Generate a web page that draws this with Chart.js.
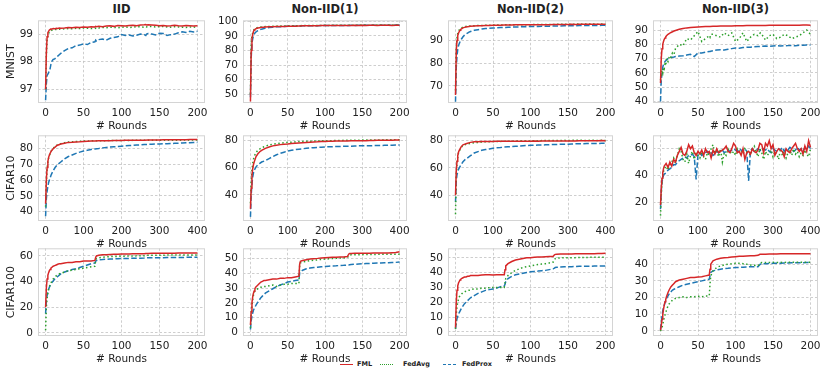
<!DOCTYPE html>
<html>
<head>
<meta charset="utf-8">
<script src="https://cdn.jsdelivr.net/npm/chart.js@4.4.0/dist/chart.umd.min.js"></script>
<style>
  body { margin: 0; background: #fff; }
  #fig { position: relative; width: 830px; height: 369px; overflow: hidden; font-family: "DejaVu Sans", sans-serif; color: #222; }
  #fig canvas { position: absolute; }
  .coltitle { position: absolute; top: 2px; height: 14px; line-height: 14px; text-align: center; font-weight: bold; font-size: 11.5px; }
  .key { position: absolute; top: 364px; width: 13px; height: 0; }
  .lab { position: absolute; top: 360px; line-height: 9px; font-size: 6.5px; font-weight: bold; }
</style>
</head>
<body>
<div id="fig">
  <div class="coltitle" style="left:38px;width:167px">IID</div>
  <div class="coltitle" style="left:243px;width:164px">Non-IID(1)</div>
  <div class="coltitle" style="left:448px;width:165px">Non-IID(2)</div>
  <div class="coltitle" style="left:653px;width:165px">Non-IID(3)</div>
  <span class="key" style="left:340px;border-top:1.5px solid #d62728"></span><span class="lab" style="left:357px">FML</span>
  <span class="key" style="left:380px;border-top:1.5px dotted #2ca02c"></span><span class="lab" style="left:403px">FedAvg</span>
  <span class="key" style="left:443px;border-top:1.5px dashed #1f77b4"></span><span class="lab" style="left:462px">FedProx</span>
</div>
<script>
// rounds at which the curves are sampled
const rounds200 = [0, 1, 2, 3, 4, 5, 6, 7, 8, 10, 12, 14, 16, 18, 20,
    25, 30, 35, 40, 45, 50, 55, 60, 65, 66, 67,
    70, 75, 80, 85, 90, 95, 100, 105, 110, 115, 120, 125, 130, 132, 133,
    135, 140, 145, 150, 155, 160, 165, 170, 175, 180, 185, 190, 195, 200];
const rounds400 = [0, 2, 4, 6, 8, 10, 15, 20, 25, 30,
    40, 50, 60, 70, 80, 90, 100, 110, 120, 130,
    140, 150, 160, 170, 180, 190, 200, 210, 220, 230,
    240, 250, 260, 270, 280, 290, 300, 310, 320, 330,
    340, 350, 360, 370, 380, 390, 400];
const rounds400dense = [0, 2, 4, 6, 8, 10,
    15, 20, 25, 30, 35, 40, 45, 50, 55, 60,
    65, 70, 75, 80, 85, 90, 95, 100, 105, 110,
    115, 120, 125, 130, 135, 140, 145, 150, 155, 160,
    165, 170, 175, 180, 185, 190, 195, 200, 205, 210,
    215, 220, 225, 230, 235, 240, 245, 250, 255, 260,
    265, 270, 275, 280, 285, 290, 295, 300, 305, 310,
    315, 320, 325, 330, 335, 340, 345, 350, 355, 360,
    365, 370, 375, 380, 385, 390, 395, 400];

const ticks200 = [0, 50, 100, 150, 200];
const ticks400 = [0, 100, 200, 300, 400];

// ---- MNIST ----
const mnistIidFml = [97.0, 98.3, 98.9, 99.05, 99.1, 99.15, 99.17, 99.18, 99.18,
    99.2, 99.19, 99.21, 99.2, 99.22, 99.21,
    99.22, 99.24, 99.23, 99.25, 99.24, 99.26, 99.25, 99.27, 99.26,
    99.28, 99.27,
    99.28, 99.27, 99.29, 99.3, 99.28, 99.31, 99.3, 99.29, 99.31, 99.32, 99.3, 99.33, 99.34,
    99.35, 99.33,
    99.34, 99.33, 99.32, 99.3, 99.31, 99.29, 99.3, 99.32, 99.3, 99.29, 99.31, 99.3, 99.29, 99.3];
const mnistIidFedAvg = [97.0, 98.2, 98.8, 98.95, 99.02, 99.08, 99.1, 99.12, 99.14,
    99.15, 99.16, 99.17, 99.16, 99.18, 99.17,
    99.19, 99.2, 99.19, 99.21, 99.2, 99.22, 99.21, 99.2, 99.22,
    99.21, 99.23,
    99.22, 99.24, 99.23, 99.25, 99.24, 99.23, 99.25, 99.26, 99.24, 99.25, 99.27, 99.26, 99.25,
    99.27, 99.26,
    99.28, 99.27, 99.26, 99.27, 99.28, 99.26, 99.25, 99.27, 99.26, 99.25, 99.24, 99.26, 99.25, 99.26];
const mnistIidFedProx = [96.6, 97.2, 97.5, 97.55, 97.6, 97.7, 97.75, 97.9, 98.0,
    98.08, 98.1, 98.15, 98.2, 98.25, 98.3,
    98.4, 98.48, 98.5, 98.58, 98.6, 98.65, 98.62, 98.7, 98.72,
    98.78, 98.75,
    98.8, 98.82, 98.78, 98.85, 98.88, 98.9, 98.98, 98.95, 98.97, 98.93, 98.96, 99.0, 98.98,
    98.95, 99.0,
    99.02, 99.0, 98.97, 99.03, 99.02, 98.95, 98.98, 99.0, 99.05, 99.08, 99.06, 99.1, 99.08, 99.1];

const mnistN1Fml = [45, 80, 88, 91, 93, 94, 94.5, 94.8, 95.1,
    95.4, 95.6, 95.8, 95.9, 96.0, 96.1,
    96.2, 96.3, 96.4, 96.5, 96.5, 96.6, 96.7, 96.7, 96.8,
    96.8, 96.8,
    96.9, 96.9, 97.0, 97.0, 97.0, 97.1, 97.1, 97.1, 97.1, 97.2, 97.1, 97.2, 97.2,
    97.2, 97.2,
    97.2, 97.3, 97.2, 97.3, 97.2, 97.3, 97.3, 97.2, 97.3, 97.3, 97.3, 97.2, 97.3, 97.3];
const mnistN1FedAvg = [50, 85, 90, 92, 93.5, 94.5, 95, 95.3, 95.5,
    95.8, 96.0, 96.1, 96.2, 96.3, 96.4,
    96.5, 96.6, 96.7, 96.8, 96.8, 96.9, 96.9, 97.0, 97.0,
    97.0, 97.0,
    97.1, 97.1, 97.1, 97.2, 97.2, 97.2, 97.3, 97.2, 97.3, 97.3, 97.3, 97.3, 97.4,
    97.3, 97.4,
    97.4, 97.3, 97.4, 97.4, 97.4, 97.3, 97.4, 97.4, 97.4, 97.4, 97.5, 97.4, 97.4, 97.4];
const mnistN1FedProx = [48, 75, 85, 88, 90, 91, 92, 92.5, 93,
    93.6, 94.1, 94.5, 94.8, 95.1, 95.3,
    95.7, 96.0, 96.2, 96.3, 96.5, 96.6, 96.7, 96.7, 96.8,
    96.8, 96.8,
    96.9, 96.9, 97.0, 97.0, 97.0, 97.1, 97.1, 97.1, 97.1, 97.2, 97.2, 97.2, 97.2,
    97.2, 97.2,
    97.3, 97.2, 97.3, 97.3, 97.3, 97.3, 97.3, 97.3, 97.3, 97.4, 97.3, 97.4, 97.4, 97.4];

const mnistN2Fml = [66, 85, 90, 92, 93, 93.8, 94.3, 94.7, 95.0,
    95.4, 95.6, 95.8, 95.9, 96.0, 96.1,
    96.2, 96.3, 96.3, 96.4, 96.4, 96.5, 96.5, 96.5, 96.6,
    96.6, 96.6,
    96.6, 96.6, 96.7, 96.7, 96.7, 96.7, 96.8, 96.8, 96.8, 96.8, 96.8, 96.8, 96.9,
    96.9, 96.9,
    96.9, 96.9, 96.9, 96.9, 97.0, 96.9, 97.0, 97.0, 97.0, 97.0, 97.0, 97.0, 97.0, 97.0];
const mnistN2FedAvg = [68, 86, 91, 93, 94, 94.5, 94.9, 95.2, 95.4,
    95.7, 95.9, 96.0, 96.1, 96.2, 96.2,
    96.3, 96.4, 96.4, 96.5, 96.5, 96.6, 96.6, 96.6, 96.6,
    96.7, 96.7,
    96.7, 96.7, 96.8, 96.8, 96.8, 96.8, 96.8, 96.9, 96.9, 96.9, 96.9, 96.9, 96.9,
    96.9, 96.9,
    97.0, 97.0, 97.0, 97.0, 97.0, 97.0, 97.1, 97.0, 97.1, 97.1, 97.1, 97.0, 97.1, 97.1];
const mnistN2FedProx = [63, 78, 83, 86, 87.5, 88.5, 89.3, 90, 90.5,
    91.5, 92.2, 92.7, 93.1, 93.5, 93.8,
    94.3, 94.6, 94.9, 95.1, 95.2, 95.3, 95.4, 95.5, 95.6,
    95.6, 95.6,
    95.7, 95.7, 95.8, 95.8, 95.9, 95.9, 96.0, 96.0, 96.0, 96.1, 96.1, 96.1, 96.2,
    96.2, 96.2,
    96.2, 96.2, 96.3, 96.3, 96.3, 96.3, 96.4, 96.4, 96.4, 96.4, 96.5, 96.4, 96.5, 96.5];

const mnistN3Fml = [53, 70, 77, 80, 82, 83.5, 84.5, 85.3, 86,
    87, 87.7, 88.3, 88.8, 89.3, 89.7,
    90.5, 91.1, 91.5, 91.8, 92.0, 92.2, 92.3, 92.4, 92.5,
    92.5, 92.5,
    92.6, 92.7, 92.8, 92.8, 92.9, 92.9, 93.0, 93.0, 93.0, 93.1, 93.1, 93.1, 93.2,
    93.2, 93.2,
    93.2, 93.2, 93.3, 93.3, 93.3, 93.3, 93.4, 93.4, 93.4, 93.4, 93.4, 93.5, 93.5, 93.4];
const mnistN3FedAvg = [55, 58, 62, 60, 64, 63, 66, 65, 70,
    68, 72, 71, 74, 73, 77,
    80, 79, 84, 83, 86, 89, 82, 84, 86,
    85, 87,
    87, 86, 85, 88, 86, 88, 82, 84, 88, 82, 85, 87, 86,
    87, 88,
    87, 83, 86, 87, 84, 85, 87, 86, 84, 85, 86, 88, 90, 87];
const mnistN3FedProx = [40, 55, 60, 64, 66, 67, 68, 68.5, 69,
    70, 70.5, 70.8, 71, 71.2, 71.5,
    71.8, 72, 72.5, 73, 71.5, 74, 74, 74.5, 75,
    75, 75.2,
    75.5, 76, 76.3, 76, 76.5, 77, 77.5, 77.3, 77.8, 78, 78, 78.3, 78.5,
    78.5, 78.6,
    78.6, 78.8, 78.7, 78.9, 79, 78.8, 79, 79.1, 79.2, 79, 79.3, 79.4, 79.5, 79.5];

// ---- CIFAR10 ----
const cifar10IidFml = [45, 60, 68, 72, 74.5, 76, 78.5, 80, 81, 82,
    83, 83.5, 84, 84.1, 84.3, 84.4, 84.6, 84.7, 84.8, 84.9,
    85.0, 85.0, 85.1, 85.1, 85.2, 85.2, 85.2, 85.3, 85.3, 85.3,
    85.4, 85.4, 85.4, 85.5, 85.5, 85.5, 85.5, 85.6, 85.6, 85.6,
    85.6, 85.7, 85.7, 85.7, 85.8, 85.8, 85.8];
const cifar10IidFedAvg = [43, 59, 67, 71.5, 74, 75.8, 78.5, 80.2, 81.3, 82.2,
    83.2, 83.8, 84.2, 84.4, 84.6, 84.7, 84.8, 84.9, 85.0, 85.0,
    85.1, 85.1, 85.1, 85.2, 85.2, 85.2, 85.2, 85.3, 85.2, 85.3,
    85.3, 85.3, 85.3, 85.3, 85.4, 85.3, 85.4, 85.4, 85.4, 85.4,
    85.4, 85.4, 85.4, 85.5, 85.4, 85.5, 85.5];
const cifar10IidFedProx = [37, 48, 53, 56, 58.5, 60, 63.5, 66, 68, 69.5,
    71.5, 73.5, 75, 76, 77, 77.8, 78.5, 79, 79.5, 79.8,
    80.1, 80.5, 80.8, 81, 81.2, 81.4, 81.6, 81.8, 82, 82.1,
    82.3, 82.4, 82.6, 82.7, 82.8, 83, 83, 83.1, 83.2, 83.3,
    83.4, 83.5, 83.6, 83.7, 83.8, 83.9, 84];

const cifar10N1Fml = [30, 45, 54, 59, 62, 64, 68, 70, 71.5, 72.5,
    74, 75, 75.8, 76.3, 76.7, 77, 77.2, 77.5, 77.7, 77.9,
    78.1, 78.3, 78.5, 78.7, 78.8, 79, 79, 79.1, 79.2, 79.3,
    79.3, 79.4, 79.4, 79.5, 79.5, 79.6, 79.6, 79.6, 79.7, 79.7,
    79.8, 79.8, 79.8, 79.9, 79.9, 80, 80];
const cifar10N1FedAvg = [34, 50, 58, 63, 66, 68, 71, 72.5, 73.5, 74.5,
    75.5, 76.5, 77, 77.4, 77.8, 78, 78.3, 78.5, 78.7, 78.9,
    79, 79.1, 79.2, 79.3, 79.4, 79.5, 79.5, 79.6, 79.6, 79.7,
    79.7, 79.8, 79.8, 79.8, 79.9, 79.9, 80, 80, 80, 80.1,
    80.1, 80.1, 80.2, 80.2, 80.2, 80.3, 80.3];
const cifar10N1FedProx = [24, 40, 48, 53, 56, 58, 60.5, 62, 63, 64,
    65, 66.5, 68, 69.3, 70.3, 71.2, 72, 72.6, 73, 73.4,
    73.7, 74, 74.3, 74.5, 74.7, 74.8, 75, 75.1, 75.2, 75.3,
    75.4, 75.5, 75.5, 75.6, 75.7, 75.8, 75.8, 75.9, 75.9, 76,
    76, 76.1, 76.2, 76.2, 76.3, 76.4, 76.5];

const cifar10N2Fml = [40, 58, 65, 69, 71.5, 73, 75.5, 77, 77.5, 78,
    78.8, 79.2, 79.3, 79.4, 79.5, 79.5, 79.5, 79.6, 79.6, 79.6,
    79.6, 79.7, 79.6, 79.7, 79.7, 79.7, 79.7, 79.8, 79.7, 79.8,
    79.8, 79.8, 79.8, 79.9, 79.8, 79.9, 79.9, 79.9, 79.9, 80,
    80, 80, 80, 80, 80, 80.1, 80];
const cifar10N2FedAvg = [26, 55, 63, 68, 71, 72.5, 75, 76.5, 77, 77.5,
    78, 78.5, 78.8, 79, 79.2, 79.3, 79.4, 79.5, 79.5, 79.6,
    79.6, 79.7, 79.7, 79.8, 79.8, 79.9, 79.9, 80, 80, 80.1,
    80.1, 80.1, 80.2, 80.2, 80.2, 80.3, 80.2, 80.3, 80.3, 80.3,
    80.3, 80.2, 80.3, 80.3, 80.2, 80.3, 80.2];
const cifar10N2FedProx = [35, 50, 55, 57, 59, 60, 62.5, 64.5, 66, 67,
    69, 71, 72, 73, 73.5, 74, 74.5, 74.8, 75, 75.3,
    75.5, 75.7, 75.9, 76.1, 76.3, 76.5, 76.6, 76.7, 76.8, 76.9,
    77, 77.1, 77.2, 77.3, 77.4, 77.5, 77.5, 77.6, 77.7, 77.8,
    77.8, 77.9, 77.9, 78, 78, 78.1, 78.1];

const cifar10N3Fml = [18, 30, 38, 42, 45, 47,
    49, 46, 50, 47, 52, 50, 55, 58, 61, 56,
    55, 58, 63, 60, 62, 57, 55, 58, 56, 59,
    55, 60, 57, 58, 53, 59, 56, 60, 57, 58,
    59, 60, 62, 58, 57, 60, 64, 62, 57, 58,
    55, 60, 52, 57, 58, 56, 60, 58, 57, 59,
    64, 63, 57, 64, 62, 66, 60, 63, 55, 58,
    60, 59, 58, 54, 60, 58, 57, 60, 62, 64,
    60, 58, 60, 56, 62, 58, 66, 61];
const cifar10N3FedAvg = [10, 25, 35, 40, 43, 45,
    47, 44, 48, 50, 53, 49, 55, 60, 58, 52,
    50, 56, 49, 55, 58, 52, 57, 55, 53, 58,
    54, 52, 57, 55, 60, 63, 56, 59, 54, 60,
    50, 57, 55, 60, 58, 56, 58, 55, 60, 58,
    59, 56, 60, 58, 57, 55, 60, 62, 58, 54,
    60, 57, 52, 58, 55, 57, 59, 54, 58, 56,
    52, 60, 55, 58, 53, 57, 59, 55, 60, 56,
    58, 54, 57, 55, 59, 56, 54, 60];
const cifar10N3FedProx = [15, 28, 35, 38, 40, 41,
    42, 44, 45, 46, 48, 48, 50, 51, 52, 53,
    54, 53, 55, 55, 56, 54, 37, 56, 57, 55,
    56, 57, 58, 56, 57, 55, 56, 58, 57, 58,
    59, 57, 58, 59, 58, 59, 60, 59, 58, 60,
    59, 58, 60, 58, 36, 59, 60, 58, 59, 60,
    59, 58, 60, 59, 60, 58, 57, 60, 59, 58,
    60, 59, 61, 58, 60, 59, 61, 60, 58, 59,
    61, 59, 60, 58, 61, 60, 62, 60];

// ---- CIFAR100 ----
const cifar100IidFml = [20, 35, 42, 45, 47, 48.5, 49.5, 50.5, 51,
    52, 52.5, 53, 53.5, 54, 54,
    54.5, 55, 55, 55.5, 55.5, 56, 56, 56, 56.5,
    59, 60,
    60.5, 61, 61, 61.2, 61.3, 61.4, 61.5, 61.5, 61.6, 61.7, 61.7, 61.8, 61.8,
    62, 62,
    62, 62.1, 62.1, 62.1, 62.2, 62.2, 62.2, 62.2, 62.3, 62.3, 62.3, 62.3, 62.3, 62.3];
const cifar100IidFedAvg = [2, 20, 27, 31, 34, 36, 37.5, 39, 40,
    42, 43.5, 44.5, 45.5, 46, 46.5,
    47.5, 48.5, 49, 49.5, 50, 50.5, 51, 51.5, 52,
    57, 58,
    58.5, 59, 59.3, 59.5, 59.6, 59.7, 59.8, 59.9, 60, 60, 60.1, 60.1, 60.2,
    60.4, 60.5,
    60.5, 60.5, 60.6, 60.6, 60.6, 60.7, 60.7, 60.7, 60.7, 60.8, 60.8, 60.8, 60.8, 60.8];
const cifar100IidFedProx = [15, 25, 29, 32, 34, 35.5, 37, 38, 39,
    40.5, 42, 43, 44, 45, 46,
    47.5, 48.5, 49.5, 50, 51, 52, 53, 54, 54.5,
    56, 56.5,
    57, 57.2, 57.5, 57.6, 57.7, 57.8, 58, 58, 58.1, 58.2, 58.3, 58.3, 58.4,
    58.5, 58.5,
    58.6, 58.6, 58.7, 58.7, 58.7, 58.8, 58.8, 58.8, 58.9, 58.9, 58.9, 59, 59, 59];

const cifar100N1Fml = [5, 14, 20, 24, 26.5, 28, 29.5, 30.5, 31,
    32, 33, 34, 34.5, 35, 35,
    35.5, 36, 36, 36.5, 36.5, 37, 37, 37.5, 38,
    46, 48,
    48.5, 49, 49.5, 49.8, 50, 50.3, 50.5, 50.6, 50.7, 50.8, 51, 51, 51.2,
    53, 53.3,
    53.3, 53.4, 53.4, 53.5, 53.5, 53.5, 53.6, 53.6, 53.6, 53.7, 53.7, 53.8, 53.9, 54.5];
const cifar100N1FedAvg = [3, 12, 18, 22, 25, 27, 28, 28.5, 29,
    29.5, 30, 30.5, 31, 31, 31,
    31.5, 32, 31, 32, 32.5, 32.5, 33, 33, 33,
    45, 47,
    47.5, 48, 48.5, 48.8, 49, 49.3, 49.5, 49.7, 49.9, 50, 50.2, 50.3, 50.5,
    52, 52.3,
    52.4, 52.5, 52.5, 52.5, 52.6, 52.6, 52.6, 52.7, 52.7, 52.7, 52.8, 52.8, 52.8, 52.8];
const cifar100N1FedProx = [2, 8, 11, 13, 15, 16, 17, 18, 19,
    20.5, 22, 23.5, 24.5, 25.5, 26.5,
    28, 29.5, 31, 32, 33, 34, 34.5, 35, 35.5,
    40, 41,
    42, 43, 43.5, 43.8, 44, 44.3, 44.5, 44.7, 44.9, 45, 45.2, 45.3, 45.5,
    45.6, 45.7,
    45.8, 46, 46.2, 46.3, 46.5, 46.6, 46.7, 46.8, 46.9, 47, 47.1, 47.2, 47.3, 47.5];

const cifar100N2Fml = [3, 20, 28, 31, 33, 34, 35, 35.5, 36,
    36.5, 37, 37, 37.5, 37.5, 38,
    38, 38, 38.3, 38.5, 38.5, 38.3, 38.5, 38.5, 38.5,
    42, 44.5,
    46, 47.5, 48.5, 49, 49.5, 50, 50, 50.3, 50.5, 50.5, 50.7, 50.8, 50.8,
    52, 52.3,
    52.4, 52.5, 52.5, 52.6, 52.6, 52.7, 52.7, 52.7, 52.8, 52.8, 52.8, 52.9, 52.9, 53];
const cifar100N2FedAvg = [2, 12, 17, 20, 22, 23.5, 24.5, 25, 25.5,
    26.5, 27, 27.5, 28, 28, 28.5,
    29, 29, 29.5, 29.5, 29.8, 30, 30, 30, 30,
    33, 36,
    38, 40, 41.5, 42.5, 43.5, 44, 44.5, 45, 45.5, 45.8, 46, 46.5, 47,
    48.5, 49.5,
    49.8, 49.9, 50, 50, 50.1, 50.1, 50.2, 50.2, 50.2, 50.3, 50.3, 50.3, 50.3, 50.3];
const cifar100N2FedProx = [2, 6, 9, 10.5, 12, 13, 14, 15, 16,
    17.5, 19, 20, 21, 22, 23,
    24.5, 26, 27, 28, 28.5, 29, 29.5, 30.5, 31,
    32, 34,
    36, 37.5, 38.5, 39, 39.5, 40, 40.5, 40.8, 41, 41.3, 41.5, 42, 42.5,
    43, 43.5,
    43.6, 43.8, 43.9, 44, 44, 44.1, 44.2, 44.2, 44.3, 44.3, 44.4, 44.4, 44.5, 44.5];

const cifar100N3Fml = [0.5, 3, 7, 10, 13, 15.5, 17.5, 19, 20.5,
    23, 25, 26.5, 27.5, 28.5, 29.5,
    30.5, 31, 31.5, 32, 32, 32.3, 32.5, 33, 33.5,
    37, 40,
    42, 43, 43.5, 43.8, 44, 44.3, 44.5, 44.7, 44.8, 44.9, 45, 45.1, 45.3,
    45.8, 46,
    46, 46, 46.1, 46.1, 46.1, 46.2, 46.2, 46.2, 46.2, 46.2, 46.3, 46.3, 46.2, 46.2];
const cifar100N3FedAvg = [0, 1, 2, 4, 6, 8, 9.5, 11, 12.5,
    15, 16.5, 17.5, 18.5, 19, 19.5,
    20, 20.5, 20, 20.5, 20.5, 20.8, 20.5, 21, 21,
    28, 33,
    36, 38, 39, 39.5, 40, 40.3, 40.5, 40.5, 40.3, 40, 39.5, 39.3, 39,
    40, 40.5,
    41, 41, 41, 41.1, 41, 41.1, 41, 41.2, 41.1, 41.2, 41.1, 41.2, 41.2, 41.1];
const cifar100N3FedProx = [1, 5, 9, 12, 14, 15.5, 17, 18.5, 19.5,
    21, 22.5, 23.5, 24.5, 25, 25.5,
    26.5, 27.5, 28, 28.5, 29, 29.5, 30, 30.5, 31,
    33, 35,
    36, 36.5, 37, 37.3, 37.5, 37.8, 38, 38, 38.2, 38.3, 38.5, 38.5, 38.5,
    39.5, 40,
    40.2, 40.3, 40.4, 40.5, 40.5, 40.6, 40.7, 40.7, 40.8, 40.8, 40.9, 40.9, 41, 41];

// panel table: one row per dataset, one column per split
const panels = [
    [
        {x: rounds200, xt: ticks200, xr: [-10, 210], yr: [96.5, 99.5], yt: [97, 98, 99], s: [mnistIidFml, mnistIidFedAvg, mnistIidFedProx]},
        {x: rounds200, xt: ticks200, xr: [-10, 210], yr: [44, 100.7], yt: [50, 60, 70, 80, 90, 100], s: [mnistN1Fml, mnistN1FedAvg, mnistN1FedProx]},
        {x: rounds200, xt: ticks200, xr: [-10, 210], yr: [62.5, 98.7], yt: [70, 80, 90], s: [mnistN2Fml, mnistN2FedAvg, mnistN2FedProx]},
        {x: rounds200, xt: ticks200, xr: [-10, 210], yr: [39, 96.8], yt: [40, 50, 60, 70, 80, 90], s: [mnistN3Fml, mnistN3FedAvg, mnistN3FedProx]}
    ],
    [
        {x: rounds400, xt: ticks400, xr: [-20, 420], yr: [34, 88.5], yt: [40, 50, 60, 70, 80], s: [cifar10IidFml, cifar10IidFedAvg, cifar10IidFedProx]},
        {x: rounds400, xt: ticks400, xr: [-20, 420], yr: [21, 83.5], yt: [40, 60, 80], s: [cifar10N1Fml, cifar10N1FedAvg, cifar10N1FedProx]},
        {x: rounds400, xt: ticks400, xr: [-20, 420], yr: [21, 84], yt: [40, 60, 80], s: [cifar10N2Fml, cifar10N2FedAvg, cifar10N2FedProx]},
        {x: rounds400dense, xt: ticks400, xr: [-20, 420], yr: [6, 70], yt: [20, 40, 60], s: [cifar10N3Fml, cifar10N3FedAvg, cifar10N3FedProx]}
    ],
    [
        {x: rounds200, xt: ticks200, xr: [-10, 210], yr: [-2.5, 66], yt: [0, 20, 40, 60], s: [cifar100IidFml, cifar100IidFedAvg, cifar100IidFedProx]},
        {x: rounds200, xt: ticks200, xr: [-10, 210], yr: [-2.4, 56.8], yt: [0, 10, 20, 30, 40, 50], s: [cifar100N1Fml, cifar100N1FedAvg, cifar100N1FedProx]},
        {x: rounds200, xt: ticks200, xr: [-10, 210], yr: [-2.8, 56.4], yt: [0, 10, 20, 30, 40, 50], s: [cifar100N2Fml, cifar100N2FedAvg, cifar100N2FedProx]},
        {x: rounds200, xt: ticks200, xr: [-10, 210], yr: [-3, 49.5], yt: [0, 10, 20, 30, 40], s: [cifar100N3Fml, cifar100N3FedAvg, cifar100N3FedProx]}
    ]
];
const rowNames = ['MNIST', 'CIFAR10', 'CIFAR100'];
const methods = ['FML', 'FedAvg', 'FedProx'];

// plot-area edges in page pixels
const colLeft = [38, 243, 448, 653];
const colRight = [205, 407, 613, 818];
const rowTop = [19, 134, 247];
const rowBottom = [103, 221, 336];
const AXIS_W = 38, TOP_PAD = 10, RIGHT_PAD = 10, XAXIS_H = 30;

const lineStyles = [
    {borderColor: '#d62728', borderDash: []},
    {borderColor: '#2ca02c', borderDash: [1.5, 2.5]},
    {borderColor: '#1f77b4', borderDash: [5.5, 2.4]}
];
const tickFont = {family: 'DejaVu Sans', size: 10.5};
const textColor = '#222';

const framePlugin = {
    id: 'frame',
    afterDatasetsDraw(chart) {
        const {ctx, chartArea: a} = chart;
        ctx.save();
        ctx.strokeStyle = '#d4d4d4';
        ctx.lineWidth = 1;
        ctx.strokeRect(a.left + 0.5, a.top + 0.5, a.right - a.left - 1, a.bottom - a.top - 1);
        ctx.restore();
    }
};

function drawPanel(p, row, col) {
    const w = colRight[col] - colLeft[col] + AXIS_W + RIGHT_PAD;
    const h = rowBottom[row] - rowTop[row] + TOP_PAD + XAXIS_H;
    const canvas = document.createElement('canvas');
    canvas.width = w;
    canvas.height = h;
    canvas.style.left = (colLeft[col] - AXIS_W) + 'px';
    canvas.style.top = (rowTop[row] - TOP_PAD) + 'px';
    canvas.style.width = w + 'px';
    canvas.style.height = h + 'px';
    document.getElementById('fig').appendChild(canvas);

    const grid = {color: '#c2c2c2', lineWidth: 0.8, drawTicks: false};
    new Chart(canvas.getContext('2d'), {
        type: 'line',
        data: {
            datasets: p.s.map((ys, i) => Object.assign({
                label: methods[i],
                data: p.x.map((x, j) => ({x: x, y: ys[j]})),
                borderWidth: 1.5,
                pointRadius: 0,
                tension: 0,
                fill: false
            }, lineStyles[i]))
        },
        options: {
            responsive: false,
            animation: false,
            devicePixelRatio: 1,
            layout: {padding: {top: TOP_PAD, right: RIGHT_PAD, left: 0, bottom: 0}},
            plugins: {legend: {display: false}, tooltip: {enabled: false}},
            scales: {
                x: {
                    type: 'linear',
                    min: p.xr[0],
                    max: p.xr[1],
                    afterBuildTicks: axis => { axis.ticks = p.xt.map(v => ({value: v})); },
                    afterFit: axis => { axis.height = XAXIS_H; },
                    ticks: {autoSkip: false, maxRotation: 0, padding: 4, color: textColor, font: tickFont, callback: v => String(v)},
                    grid: grid,
                    border: {display: false, dash: [2.5, 2]},
                    title: {display: true, text: '# Rounds', color: textColor, font: tickFont, padding: {top: 0, bottom: 0}}
                },
                y: {
                    type: 'linear',
                    min: p.yr[0],
                    max: p.yr[1],
                    afterBuildTicks: axis => { axis.ticks = p.yt.map(v => ({value: v})); },
                    afterFit: axis => { axis.width = AXIS_W; },
                    ticks: {autoSkip: false, padding: 5, color: textColor, font: tickFont, callback: v => String(v)},
                    grid: grid,
                    border: {display: false, dash: [2.5, 2]},
                    title: {display: col === 0, text: rowNames[row], color: textColor,
                        font: {family: 'DejaVu Sans', size: 11}, padding: {top: 5, bottom: 0}}
                }
            }
        },
        plugins: [framePlugin]
    });
}

document.addEventListener('DOMContentLoaded', () => {
    panels.forEach((rowPanels, r) => rowPanels.forEach((p, c) => drawPanel(p, r, c)));
});
</script>
</body>
</html>
